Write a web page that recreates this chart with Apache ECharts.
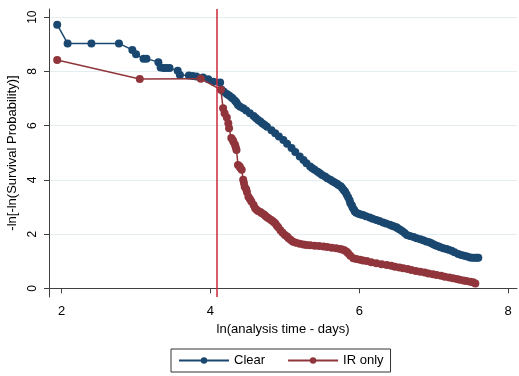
<!DOCTYPE html>
<html>
<head>
<meta charset="utf-8">
<script src="https://cdn.jsdelivr.net/npm/echarts@6/dist/echarts.min.js"></script>
<style>
  html, body { margin: 0; padding: 0; background: #fff; }
  #chart { width: 519px; height: 376px; }
</style>
</head>
<body>
<div id="chart"></div>
<script>
// ln(time) and -ln(-ln(S))
const clearTime = [1.94, 2.08, 2.40, 2.77, 2.95, 3.00, 3.10, 3.14, 3.30, 3.33, 3.37, 3.41, 3.45, 3.56, 3.59, 3.71, 3.76, 3.81, 3.90, 3.97,
  4.04, 4.13, 4.15, 4.18, 4.22, 4.25, 4.28, 4.30, 4.33, 4.35, 4.37, 4.40, 4.44, 4.48, 4.53, 4.58, 4.61, 4.64, 4.67, 4.70,
  4.73, 4.76, 4.82, 4.87, 4.92, 4.98, 5.03, 5.09, 5.14, 5.20, 5.25, 5.29, 5.34, 5.37, 5.40, 5.44, 5.47, 5.50, 5.54, 5.57,
  5.61, 5.64, 5.67, 5.70, 5.72, 5.75, 5.77, 5.79, 5.81, 5.83, 5.85, 5.87, 5.88, 5.90, 5.91, 5.93, 5.94, 5.96, 5.99, 6.02,
  6.05, 6.09, 6.14, 6.18, 6.23, 6.27, 6.32, 6.36, 6.41, 6.44, 6.47, 6.50, 6.52, 6.55, 6.58, 6.61, 6.64, 6.68, 6.73, 6.77,
  6.82, 6.86, 6.90, 6.94, 6.97, 7.00, 7.03, 7.06, 7.09, 7.13, 7.17, 7.20, 7.24, 7.28, 7.33, 7.37, 7.41, 7.45, 7.49, 7.52,
  7.55, 7.58, 7.60];
const clearValue = [9.72, 9.03, 9.03, 9.03, 8.79, 8.63, 8.47, 8.47, 8.34, 8.14, 8.12, 8.12, 8.12, 8.02, 7.87, 7.85, 7.83, 7.81, 7.77, 7.71,
  7.62, 7.59, 7.32, 7.25, 7.17, 7.11, 7.05, 7.00, 6.92, 6.85, 6.76, 6.70, 6.64, 6.56, 6.46, 6.35, 6.28, 6.21, 6.15, 6.08,
  6.02, 5.96, 5.83, 5.72, 5.60, 5.47, 5.33, 5.17, 5.03, 4.86, 4.73, 4.61, 4.49, 4.43, 4.37, 4.30, 4.24, 4.18, 4.12, 4.06,
  4.00, 3.95, 3.90, 3.86, 3.81, 3.76, 3.70, 3.63, 3.56, 3.46, 3.36, 3.25, 3.14, 3.06, 2.98, 2.90, 2.83, 2.79, 2.75, 2.72,
  2.70, 2.66, 2.61, 2.57, 2.52, 2.48, 2.43, 2.39, 2.34, 2.31, 2.28, 2.25, 2.21, 2.16, 2.10, 2.04, 1.97, 1.93, 1.89, 1.85,
  1.81, 1.77, 1.73, 1.70, 1.66, 1.62, 1.58, 1.55, 1.51, 1.48, 1.45, 1.42, 1.39, 1.33, 1.27, 1.23, 1.20, 1.17, 1.14, 1.13,
  1.13, 1.13, 1.13];

const irTime = [1.94, 3.05, 3.87, 4.14, 4.17, 4.19, 4.22, 4.24, 4.25, 4.28, 4.30, 4.31, 4.33, 4.34, 4.35, 4.37, 4.39, 4.40, 4.42, 4.44,
  4.45, 4.46, 4.48, 4.49, 4.51, 4.53, 4.55, 4.58, 4.60, 4.62, 4.64, 4.67, 4.69, 4.72, 4.74, 4.76, 4.78, 4.81, 4.83, 4.85,
  4.87, 4.89, 4.91, 4.94, 4.97, 5.00, 5.03, 5.05, 5.08, 5.11, 5.15, 5.20, 5.25, 5.29, 5.34, 5.40, 5.46, 5.52, 5.57, 5.63,
  5.69, 5.74, 5.77, 5.80, 5.83, 5.85, 5.88, 5.92, 5.96, 6.01, 6.05, 6.10, 6.16, 6.23, 6.30, 6.37, 6.43, 6.48, 6.54, 6.59,
  6.65, 6.70, 6.76, 6.82, 6.88, 6.93, 6.99, 7.04, 7.10, 7.15, 7.21, 7.26, 7.31, 7.35, 7.40, 7.44, 7.49, 7.53, 7.56];
const irValue = [8.42, 7.72, 7.73, 7.32, 6.64, 6.46, 6.30, 6.09, 5.90, 5.54, 5.47, 5.40, 5.29, 5.20, 5.10, 4.55, 4.50, 4.45, 4.37, 4.00,
  3.88, 3.75, 3.65, 3.55, 3.38, 3.29, 3.20, 3.07, 2.95, 2.90, 2.85, 2.81, 2.77, 2.72, 2.67, 2.62, 2.58, 2.53, 2.49, 2.45,
  2.40, 2.32, 2.25, 2.14, 2.05, 1.97, 1.91, 1.85, 1.78, 1.72, 1.68, 1.64, 1.62, 1.60, 1.59, 1.57, 1.56, 1.54, 1.52, 1.50,
  1.48, 1.45, 1.43, 1.40, 1.35, 1.29, 1.20, 1.11, 1.08, 1.05, 1.03, 1.01, 0.96, 0.92, 0.89, 0.86, 0.83, 0.80, 0.77, 0.74,
  0.71, 0.68, 0.64, 0.61, 0.58, 0.55, 0.52, 0.49, 0.46, 0.43, 0.40, 0.37, 0.34, 0.32, 0.29, 0.27, 0.24, 0.22, 0.18];

const xTicks = [2, 4, 6, 8];
const yTicks = [0, 2, 4, 6, 8, 10];
const cutoff = 4.094; // ln(60)

const seriesNames = ['Clear', 'IR only'];
const seriesColors = ['#1a476f', '#90353b'];

function pairs(xs, ys) {
  return xs.map((x, i) => [x, ys[i]]);
}

const chart = echarts.init(document.getElementById('chart'));

const option = {
  backgroundColor: '#fff',
  animation: false,
  textStyle: { fontFamily: 'Liberation Sans, Arial, sans-serif', color: '#000' },
  grid: { left: 49, right: 2, top: 9, bottom: 79, outerBoundsMode: 'none', containLabel: false },
  legend: {
    data: seriesNames,
    left: 171,
    top: 349,
    padding: [5, 7],
    itemWidth: 50,
    itemHeight: 8,
    itemGap: 22,
    borderColor: '#333',
    borderWidth: 1,
    textStyle: { fontSize: 13, color: '#000' }
  },
  xAxis: {
    type: 'value',
    min: 1.83,
    max: 8.12,
    name: 'ln(analysis time - days)',
    nameLocation: 'middle',
    nameGap: 22,
    nameTextStyle: { fontSize: 13, color: '#000' },
    axisLine: { lineStyle: { color: '#404040', width: 1 } },
    axisTick: { show: true, length: 5, customValues: xTicks, lineStyle: { color: '#404040' } },
    axisLabel: { customValues: xTicks, fontSize: 13, color: '#000', margin: 8 },
    splitLine: { show: false }
  },
  yAxis: {
    type: 'value',
    min: -0.32,
    max: 10.3,
    name: '-ln[-ln(Survival Probability)]',
    nameLocation: 'middle',
    nameGap: 29,
    nameTextStyle: { fontSize: 13, color: '#000' },
    axisLine: { show: true, lineStyle: { color: '#404040', width: 1 } },
    axisTick: { show: true, length: 5, customValues: yTicks, lineStyle: { color: '#404040' } },
    axisLabel: { customValues: yTicks, fontSize: 12, color: '#000', rotate: 90, margin: 10 },
    splitLine: { show: true, lineStyle: { color: '#e4edf0', width: 1 } }
  },
  series: [
    {
      name: seriesNames[0],
      type: 'line',
      data: pairs(clearTime, clearValue),
      color: seriesColors[0],
      symbol: 'circle',
      symbolSize: 8,
      showAllSymbol: true,
      lineStyle: { width: 1.5 },
      z: 3,
      markLine: {
        silent: true,
        symbol: 'none',
        label: { show: false },
        emphasis: { disabled: true },
        lineStyle: { color: '#c92a3a', width: 1.5, type: 'solid', opacity: 1 },
        data: [{ xAxis: cutoff }]
      }
    },
    {
      name: seriesNames[1],
      type: 'line',
      data: pairs(irTime, irValue),
      color: seriesColors[1],
      symbol: 'circle',
      symbolSize: 8,
      showAllSymbol: true,
      lineStyle: { width: 1.5 },
      z: 4
    }
  ]
};

chart.setOption(option);
</script>
</body>
</html>
